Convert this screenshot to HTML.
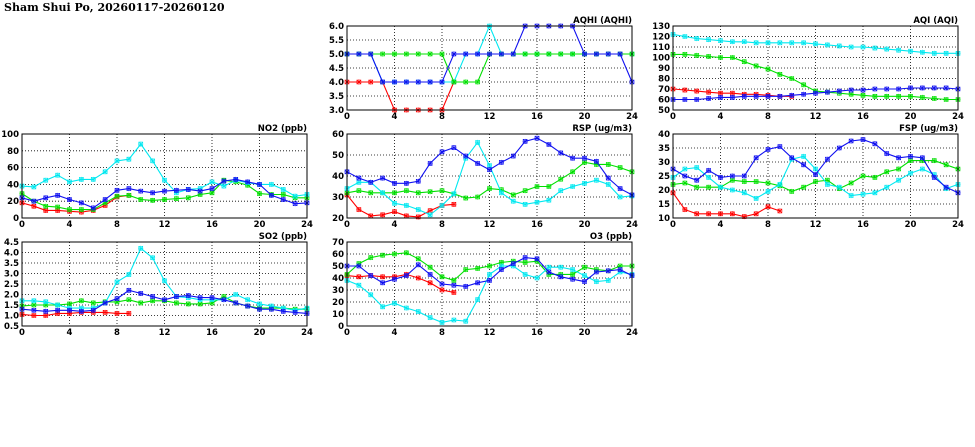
<!DOCTYPE html>
<html><head><meta charset="utf-8">
<style>
html,body{margin:0;padding:0;background:#fff;}
svg{display:block;font-family:"DejaVu Sans","Liberation Sans",sans-serif;}
.t{font-size:8.5px;font-weight:bold;fill:#000;}
</style></head><body>
<svg id="c" width="975" height="447" viewBox="0 0 975 447">
<text x="4" y="11" style="font-family:'DejaVu Serif','Liberation Serif',serif;font-size:11px;font-weight:bold">Sham Shui Po, 20260117-20260120</text>
</svg>
<script>
const hours=[0,1,2,3,4,5,6,7,8,9,10,11,12,13,14,15,16,17,18,19,20,21,22,23,24];
const xTicks=[0,4,8,12,16,20,24];
const aqhiRed=[4,4,4,4,3,3,3,3,3,4];
const aqhiGreen=[5,5,5,5,5,5,5,5,5,4,4,4,5,5,5,5,5,5,5,5,5,5,5,5,5];
const aqhiCyan=[5,5,5,4,4,4,4,4,4,4,5,5,6,5,5,5,5,5,5,5,5,5,5,5,5];
const aqhiBlue=[5,5,5,4,4,4,4,4,4,5,5,5,5,5,5,6,6,6,6,6,5,5,5,5,4];
const aqiRed=[70,69,68,67,66,66,65,65,64,63,63];
const aqiGreen=[103,103,102,101,100,100,96,92,89,84,80,74,68,67,66,65,64,63,63,63,63,62,61,60,60];
const aqiCyan=[122,120,118,117,116,115,115,114,114,114,114,114,113,112,111,110,110,109,108,107,106,105,104,104,104];
const aqiBlue=[60,60,60,61,62,62,63,63,63,63,64,65,66,67,68,69,69,70,70,70,71,71,71,71,70];
const no2Red=[18,14,9,9,8,7,9,15,25,27];
const no2Green=[29,20,14,13,10,10,10,18,26,27,22,21,22,23,24,28,30,45,43,39,29,28,28,24,24];
const no2Cyan=[38,37,45,51,43,46,46,55,68,70,88,68,45,30,34,35,43,38,45,42,40,40,34,26,28];
const no2Blue=[24,20,24,27,22,18,12,22,33,35,32,30,32,33,34,32,35,44,46,43,40,27,22,17,18];
const rspRed=[31,24,21,21.5,23,21,20.5,23.5,26,26.5];
const rspGreen=[32,33,32,32,32,33,32,32.5,33,31.5,29.5,30,34,33.5,31,33,35,35,38.5,42,46.5,45.5,45.5,44,42];
const rspCyan=[34,37,37,32,27,26,24,21.5,26,31.5,48.5,56,45,32,28,26.5,27.5,28.5,33,35,36.5,38,36,30,30.5];
const rspBlue=[42,39,37,39,36.5,36.5,37.5,46,51.5,53.5,49.5,46,43,46.5,49.5,56.5,58,55,51,48.5,48.5,47,39,34,31];
const fspRed=[19,13,11.5,11.5,11.5,11.5,10.5,11.5,14,12.5];
const fspGreen=[22,22.5,21,21,21,23.5,23,23,22.5,21.5,19.5,21,23,23.5,20.5,22.5,25,24.5,26.5,27.5,30.5,30.5,30.5,29,27.5];
const fspCyan=[24.5,27.5,28,24.5,21,20,19,17,19.5,22,31,32,27.5,22,21,18,18.5,19,21,23.5,26,27.5,25.5,20.5,22];
const fspBlue=[27.5,25,23.5,27,24.5,25,25,31.5,34.5,35.5,31.5,29,25.5,31,35,37.5,38,36.5,33,31.5,32,31.5,24.5,21,19];
const so2Red=[1.05,1.0,1.0,1.1,1.1,1.15,1.15,1.15,1.1,1.1];
const so2Green=[1.45,1.5,1.5,1.5,1.55,1.7,1.6,1.65,1.65,1.75,1.6,1.7,1.7,1.6,1.55,1.55,1.6,1.9,1.6,1.45,1.35,1.35,1.35,1.3,1.3];
const so2Cyan=[1.7,1.7,1.65,1.5,1.35,1.35,1.35,1.6,2.6,2.95,4.2,3.75,2.65,1.9,1.85,1.75,1.75,1.75,2.0,1.75,1.55,1.45,1.35,1.25,1.35];
const so2Blue=[1.3,1.25,1.2,1.25,1.25,1.2,1.25,1.6,1.8,2.2,2.05,1.9,1.75,1.9,1.95,1.85,1.85,1.75,1.6,1.45,1.3,1.3,1.2,1.15,1.1];
const o3Red=[42,41,42,41,41,43,40,36,30,28];
const o3Green=[43,52,57,59,60,61,56,49,41,38,47,48,50,53,54,53,54,43,43,43,49,47,46,50,50];
const o3Cyan=[38,34,26,16,19,15,12,7,3,5,4,22,43,50,50,43,40,49,49,47,42,37,38,45,43];
const o3Blue=[50,50,42,36,39,42,51,43,35,34,33,36,38,47,52,57,56,45,41,39,37,45,46,47,42];
const aqhiTicks=[3.0,3.5,4.0,4.5,5.0,5.5,6.0];
const aqiTicks=[50,60,70,80,90,100,110,120,130];
const no2Ticks=[0,20,40,60,80,100];
const rspTicks=[20,30,40,50,60];
const fspTicks=[10,15,20,25,30,35,40];
const so2Ticks=[0.5,1.0,1.5,2.0,2.5,3.0,3.5,4.0,4.5];
const o3Ticks=[0,10,20,30,40,50,60,70];

const NS="http://www.w3.org/2000/svg";
const svg=document.getElementById('c');
const colors={red:'#ff0000',green:'#00e000',cyan:'#00e8f0',blue:'#1010f0'};
function mk(tag,attrs,parent){const e=document.createElementNS(NS,tag);for(const k in attrs)e.setAttribute(k,attrs[k]);(parent||svg).appendChild(e);return e;}

const panels=[
 {id:'aqhi',title:'AQHI (AQHI)',x0:347,y0:26,ticks:aqhiTicks,dec:1,series:[['red',aqhiRed],['cyan',aqhiCyan],['green',aqhiGreen],['blue',aqhiBlue]]},
 {id:'aqi',title:'AQI (AQI)',x0:673,y0:26,ticks:aqiTicks,dec:0,series:[['red',aqiRed],['green',aqiGreen],['cyan',aqiCyan],['blue',aqiBlue]]},
 {id:'no2',title:'NO2 (ppb)',x0:22,y0:134,ticks:no2Ticks,dec:0,series:[['red',no2Red],['green',no2Green],['cyan',no2Cyan],['blue',no2Blue]]},
 {id:'rsp',title:'RSP (ug/m3)',x0:347,y0:134,ticks:rspTicks,dec:0,series:[['red',rspRed],['green',rspGreen],['cyan',rspCyan],['blue',rspBlue]]},
 {id:'fsp',title:'FSP (ug/m3)',x0:673,y0:134,ticks:fspTicks,dec:0,series:[['red',fspRed],['green',fspGreen],['cyan',fspCyan],['blue',fspBlue]]},
 {id:'so2',title:'SO2 (ppb)',x0:22,y0:242,ticks:so2Ticks,dec:1,series:[['red',so2Red],['green',so2Green],['cyan',so2Cyan],['blue',so2Blue]]},
 {id:'o3',title:'O3 (ppb)',x0:347,y0:242,ticks:o3Ticks,dec:0,series:[['red',o3Red],['green',o3Green],['cyan',o3Cyan],['blue',o3Blue]]}
];
const W=285,H=84;
panels.forEach(p=>{
 const g=mk('g',{});
 
 
 const ymin=p.ticks[0],ymax=p.ticks[p.ticks.length-1];
 const sx=v=>p.x0+v/24*W;
 const sy=v=>p.y0+H-(v-ymin)/(ymax-ymin)*H;
 p.ticks.forEach((t,i)=>{
  if(i>0&&i<p.ticks.length-1){const l=mk('line',{x1:p.x0,x2:p.x0+W,y1:sy(t),y2:sy(t),stroke:'#000','stroke-width':0.8,'stroke-dasharray':'1,2'},g);
   }
  const tx=mk('text',{x:p.x0-3,y:sy(t)+3,'text-anchor':'end',class:'t'},g);
  tx.textContent=t.toFixed(p.dec);
  
  
 });
 xTicks.forEach((t,i)=>{
  if(i>0&&i<xTicks.length-1){const l=mk('line',{x1:sx(t),x2:sx(t),y1:p.y0,y2:p.y0+H,stroke:'#000','stroke-width':0.8,'stroke-dasharray':'1,2'},g);
   }
  const tx=mk('text',{x:sx(t),y:p.y0+H+9,'text-anchor':'middle',class:'t'},g);
  tx.textContent=t;
  
  
 });
 const title=mk('text',{x:p.x0+W,y:p.y0-3,'text-anchor':'end',class:'t'},g);
 title.textContent=p.title;
 
 
 p.series.forEach(([c,arr])=>{
  const col=colors[c];
  const sg=mk('g',{},g);
  
  
  const pts=arr.map((v,i)=>sx(hours[i]).toFixed(1)+','+sy(v).toFixed(1)).join(' ');
  const pl=mk('polyline',{points:pts,fill:'none',stroke:col,'stroke-width':1.1},sg);
  
  
  arr.forEach((v,i)=>{
   const x=sx(hours[i]),y=sy(v);
   const m=mk('path',{d:`M${x-2},${y-2}h4v4h-4zM${x-2},${y-2}l4,4M${x+2},${y-2}l-4,4M${x},${y-2.5}v5M${x-2.5},${y}h5`,fill:'none',stroke:col,'stroke-width':0.6},sg);
   
   
  });
 });
 const box=mk('rect',{x:p.x0,y:p.y0,width:W,height:H,fill:'none',stroke:'#000','stroke-width':1},g);
 
 
});
</script>
</body></html>
